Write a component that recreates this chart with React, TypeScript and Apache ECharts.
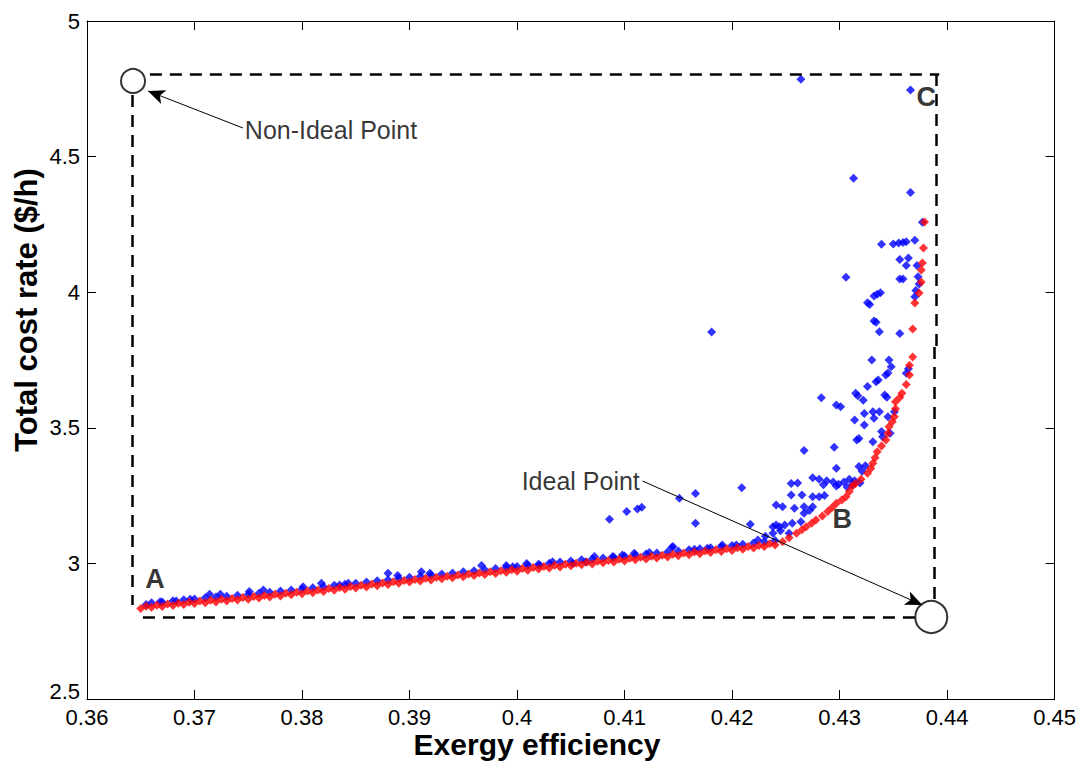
import React, { useEffect, useRef } from "react";
import * as echarts from "echarts";

// Pareto front (red) : [exergy efficiency, total cost rate]
const paretoFront: number[][] = [
  [0.3650, 2.834], [0.3655, 2.842], [0.3660, 2.838], [0.3665, 2.846], [0.3670, 2.841],
  [0.3675, 2.850], [0.3680, 2.845], [0.3685, 2.853], [0.3690, 2.848], [0.3695, 2.857],
  [0.3700, 2.852], [0.3705, 2.861], [0.3710, 2.855], [0.3715, 2.864], [0.3720, 2.858],
  [0.3725, 2.868], [0.3730, 2.861], [0.3735, 2.871], [0.3740, 2.865], [0.3745, 2.874],
  [0.3750, 2.868], [0.3755, 2.878], [0.3760, 2.872], [0.3765, 2.882], [0.3770, 2.876],
  [0.3775, 2.886], [0.3780, 2.880], [0.3785, 2.890], [0.3790, 2.884], [0.3795, 2.894],
  [0.3800, 2.888], [0.3805, 2.898], [0.3810, 2.892], [0.3815, 2.902], [0.3820, 2.896],
  [0.3825, 2.907], [0.3830, 2.901], [0.3835, 2.911], [0.3840, 2.905], [0.3845, 2.915],
  [0.3850, 2.909], [0.3855, 2.919], [0.3860, 2.913], [0.3865, 2.924], [0.3870, 2.918],
  [0.3875, 2.928], [0.3880, 2.922], [0.3885, 2.932], [0.3890, 2.927], [0.3895, 2.937],
  [0.3900, 2.931], [0.3905, 2.941], [0.3910, 2.935], [0.3915, 2.945], [0.3920, 2.939],
  [0.3925, 2.949], [0.3930, 2.943], [0.3935, 2.953], [0.3940, 2.947], [0.3945, 2.957],
  [0.3950, 2.951], [0.3955, 2.961], [0.3960, 2.955], [0.3965, 2.965], [0.3970, 2.959],
  [0.3975, 2.969], [0.3980, 2.963], [0.3985, 2.973], [0.3990, 2.967], [0.3995, 2.977],
  [0.4000, 2.971], [0.4005, 2.981], [0.4010, 2.975], [0.4015, 2.985], [0.4020, 2.979],
  [0.4025, 2.989], [0.4030, 2.983], [0.4035, 2.993], [0.4040, 2.987], [0.4045, 2.997],
  [0.4050, 2.991], [0.4055, 3.001], [0.4060, 2.995], [0.4065, 3.004], [0.4070, 2.998],
  [0.4075, 3.008], [0.4080, 3.002], [0.4085, 3.011], [0.4090, 3.005], [0.4095, 3.015],
  [0.4100, 3.009], [0.4105, 3.019], [0.4110, 3.013], [0.4115, 3.023], [0.4120, 3.016],
  [0.4125, 3.026], [0.4130, 3.020], [0.4135, 3.030], [0.4140, 3.024], [0.4145, 3.034],
  [0.4150, 3.028], [0.4155, 3.038], [0.4160, 3.032], [0.4165, 3.042], [0.4170, 3.036],
  [0.4175, 3.046], [0.4180, 3.040], [0.4185, 3.050], [0.4190, 3.044], [0.4195, 3.054],
  [0.4200, 3.048], [0.4205, 3.058], [0.4210, 3.052], [0.4215, 3.062], [0.4220, 3.057],
  [0.4225, 3.066], [0.4230, 3.062], [0.4235, 3.072], [0.4240, 3.068],
  [0.4247, 3.080], [0.4253, 3.095], [0.4260, 3.111], [0.4265, 3.124], [0.4269, 3.135],
  [0.4274, 3.148], [0.4278, 3.160], [0.4284, 3.175], [0.4289, 3.191], [0.4293, 3.206],
  [0.4297, 3.222], [0.4302, 3.234], [0.4306, 3.246], [0.4309, 3.265], [0.4312, 3.285],
  [0.4315, 3.295], [0.4320, 3.310], [0.4326, 3.332], [0.4329, 3.350], [0.4331, 3.369],
  [0.4333, 3.390], [0.4335, 3.412], [0.4339, 3.433], [0.4343, 3.455], [0.4345, 3.480],
  [0.4346, 3.504], [0.4349, 3.522], [0.4351, 3.541], [0.4352, 3.570], [0.4352, 3.596],
  [0.4356, 3.612], [0.4358, 3.627], [0.4362, 3.660], [0.4365, 3.695], [0.4365, 3.731],
  [0.4368, 3.761], [0.4368, 3.864], [0.4370, 3.960], [0.4374, 3.997], [0.4376, 4.038],
  [0.4376, 4.082], [0.4377, 4.108], [0.4378, 4.163], [0.4379, 4.259],
];

// All evaluated solutions (blue)
const solutions: number[][] = [
  // upper scatter
  [0.4264, 4.785], [0.4366, 4.746], [0.4313, 4.420], [0.4366, 4.368], [0.4377, 4.258],
  [0.4339, 4.177], [0.4350, 4.178], [0.4355, 4.181], [0.4359, 4.183], [0.4362, 4.186],
  [0.4370, 4.192], [0.4356, 4.121], [0.4364, 4.126], [0.4362, 4.098], [0.4372, 4.098],
  [0.4306, 4.055], [0.4356, 4.049], [0.4359, 4.049], [0.4373, 4.057], [0.4374, 4.030],
  [0.4338, 3.998], [0.4332, 3.986], [0.4335, 3.992], [0.4371, 4.006], [0.4370, 3.983],
  [0.4326, 3.961], [0.4328, 3.955], [0.4332, 3.894], [0.4334, 3.889], [0.4337, 3.854],
  [0.4356, 3.848], [0.4330, 3.750], [0.4346, 3.750], [0.4348, 3.725], [0.4343, 3.695],
  [0.4345, 3.702], [0.4334, 3.670], [0.4336, 3.676], [0.4326, 3.652], [0.4362, 3.701],
  [0.4364, 3.718], [0.4283, 3.611], [0.4315, 3.627], [0.4317, 3.618], [0.4322, 3.602],
  [0.4342, 3.621], [0.4344, 3.613], [0.4297, 3.584], [0.4301, 3.578], [0.4323, 3.553],
  [0.4331, 3.559], [0.4337, 3.559], [0.4351, 3.559], [0.4314, 3.529], [0.4323, 3.510],
  [0.4332, 3.535], [0.4345, 3.541], [0.4339, 3.486], [0.4340, 3.467], [0.4318, 3.461],
  [0.4316, 3.455], [0.4331, 3.449], [0.4347, 3.480], [0.4267, 3.416], [0.4295, 3.428],
  [0.4297, 3.351], [0.4318, 3.357], [0.4321, 3.340], [0.4324, 3.360],
  [0.4275, 3.316], [0.4281, 3.310], [0.4288, 3.305], [0.4294, 3.300], [0.4299, 3.292],
  [0.4304, 3.300], [0.4309, 3.310], [0.4314, 3.305], [0.4319, 3.296], [0.4285, 3.290],
  [0.4297, 3.285], [0.4307, 3.282], [0.4312, 3.290], [0.4255, 3.295], [0.4261, 3.296],
  [0.4255, 3.252], [0.4265, 3.252], [0.4275, 3.246], [0.4281, 3.246], [0.4286, 3.250],
  [0.4241, 3.215], [0.4247, 3.209], [0.4258, 3.203], [0.4267, 3.209], [0.4275, 3.209],
  [0.4267, 3.185], [0.4272, 3.195], [0.4241, 3.142], [0.4249, 3.142], [0.4256, 3.148],
  [0.4264, 3.154], [0.4253, 3.111], [0.4238, 3.111], [0.4245, 3.120], [0.4238, 3.135],
  [0.4244, 3.135],
  // middle outliers
  [0.4181, 3.853], [0.4086, 3.163], [0.4102, 3.191], [0.4112, 3.201], [0.4116, 3.207],
  [0.4151, 3.240], [0.4166, 3.258], [0.4166, 3.148], [0.4209, 3.279], [0.4217, 3.144],
  [0.4144, 3.059], [0.4224, 3.086], [0.4231, 3.100],
  // lower band bumps
  [0.3655, 2.848], [0.3668, 2.859], [0.3683, 2.861], [0.3696, 2.868], [0.3714, 2.886],
  [0.3724, 2.886], [0.3751, 2.896], [0.3764, 2.902], [0.3801, 2.914], [0.3818, 2.927],
  [0.3835, 2.920], [0.3843, 2.927], [0.3880, 2.964], [0.3889, 2.955], [0.3911, 2.969],
  [0.3919, 2.964], [0.3967, 2.992], [0.3990, 2.992], [0.3996, 2.988], [0.4009, 3.000],
  [0.4021, 2.994], [0.4033, 3.006], [0.4052, 3.000], [0.4064, 3.006], [0.4072, 3.025],
  [0.4089, 3.025], [0.4098, 3.031], [0.4109, 3.037], [0.4123, 3.040], [0.4145, 3.062],
  [0.4165, 3.052], [0.4177, 3.056], [0.4191, 3.068], [0.4204, 3.068],
  // lower band fringe
  [0.366, 2.855], [0.367, 2.858], [0.368, 2.862], [0.369, 2.866], [0.370, 2.869],
  [0.371, 2.873], [0.372, 2.876], [0.373, 2.879], [0.374, 2.883], [0.375, 2.886],
  [0.376, 2.890], [0.377, 2.894], [0.378, 2.898], [0.379, 2.902], [0.380, 2.906],
  [0.381, 2.910], [0.382, 2.914], [0.383, 2.919], [0.384, 2.923], [0.385, 2.927],
  [0.386, 2.931], [0.387, 2.936], [0.388, 2.940], [0.389, 2.945], [0.390, 2.949],
  [0.391, 2.953], [0.392, 2.957], [0.393, 2.961], [0.394, 2.965], [0.395, 2.969],
  [0.396, 2.973], [0.397, 2.977], [0.398, 2.981], [0.399, 2.985], [0.400, 2.989],
  [0.401, 2.993], [0.402, 2.997], [0.403, 3.001], [0.404, 3.005], [0.405, 3.009],
  [0.406, 3.013], [0.407, 3.016], [0.408, 3.020], [0.409, 3.023], [0.410, 3.027],
  [0.411, 3.031], [0.412, 3.035], [0.413, 3.038], [0.414, 3.042], [0.415, 3.046],
  [0.416, 3.050], [0.417, 3.054], [0.418, 3.058], [0.419, 3.062], [0.420, 3.066],
  [0.421, 3.071], [0.422, 3.075], [0.423, 3.080], [0.424, 3.084],
];

// Annotation anchors (data coordinates)
const nonIdealPoint = [0.36428, 4.779];
const idealPoint = [0.43853, 2.8024];
const boxTopY = 4.8046;
const boxBottomY = 2.8024;
const boxLeftX = 0.36418;
const boxRightX = 0.439;

const FONT = "'Liberation Sans', Arial, Helvetica, sans-serif";

export default function App() {
  const ref = useRef<HTMLDivElement>(null);
  useEffect(() => {
    document.body.style.margin = "0";
    const chart = echarts.init(ref.current!, null, { renderer: "svg" });
    const fmt = (v: number) => String(parseFloat(v.toFixed(2)));
    const yFmt = (v: number) => (Math.abs(v - 2.5) < 1e-9 ? "{low|2.5}" : fmt(v));
    const line = { show: true, onZero: false, lineStyle: { color: "#000", width: 1 } };
    const tick = { show: true, inside: true, length: 9, lineStyle: { color: "#000", width: 1 } };
    const xBase = { type: "value", min: 0.36, max: 0.45, interval: 0.01, axisLine: line, axisTick: tick, splitLine: { show: false } };
    const yBase = { type: "value", min: 2.5, max: 5, interval: 0.5, axisLine: line, axisTick: tick, splitLine: { show: false } };
    const dash = { color: "#000", width: 2.5, type: [12, 8] };
    const seg = (a: number[], b: number[]) => [{ coord: a }, { coord: b }];
    const lbl = { color: "#000", textBorderWidth: 0, textBorderColor: "transparent", fontFamily: FONT };

    chart.setOption({
      animation: false,
      backgroundColor: "#ffffff",
      grid: { left: 87, right: 24, top: 21, bottom: 63, containLabel: false },
      xAxis: [
        { ...xBase, position: "bottom", axisLabel: { color: "#000", fontSize: 22, fontFamily: FONT, margin: 7, formatter: fmt } },
        { ...xBase, position: "top", axisLabel: { show: false } },
      ],
      yAxis: [
        {
          ...yBase,
          position: "left",
          axisLabel: {
            color: "#000", fontSize: 22, fontFamily: FONT, margin: 7, formatter: yFmt,
            rich: { low: { fontSize: 22, fontFamily: FONT, color: "#000", padding: [0, 0, 16, 0] } },
          },
        },
        { ...yBase, position: "right", axisLabel: { show: false } },
      ],
      series: [
        {
          name: "solutions",
          type: "scatter",
          symbol: "diamond",
          symbolSize: 9,
          itemStyle: { color: "#0000ff" },
          data: solutions,
          silent: true,
          z: 2,
        },
        {
          name: "pareto",
          type: "scatter",
          symbol: "diamond",
          symbolSize: 9,
          itemStyle: { color: "#ff0000" },
          data: paretoFront,
          silent: true,
          z: 3,
        },
        {
          name: "box",
          type: "scatter",
          data: [],
          silent: true,
          z: 4,
          markLine: {
            silent: true,
            symbol: ["none", "none"],
            label: { show: false },
            lineStyle: dash,
            emphasis: { disabled: true },
            data: [
              seg([0.36585, boxTopY], [0.43927, boxTopY]),
              seg([boxLeftX, 4.727], [boxLeftX, 2.847]),
              seg([0.3652, boxBottomY], [0.43714, boxBottomY]),
              seg([boxRightX, boxTopY], [boxRightX, 3.798]),
              seg([0.43881, 3.798], [0.43881, 2.861]),
            ],
          },
        },
        {
          name: "arrows",
          type: "scatter",
          data: [],
          silent: true,
          z: 5,
          markLine: {
            silent: true,
            symbol: ["none", "arrow"],
            symbolSize: [11, 17],
            label: { show: false },
            lineStyle: { color: "#000", width: 1, type: "solid" },
            itemStyle: { color: "#000" },
            emphasis: { disabled: true },
            data: [
              seg([0.3745, 4.6055], [0.36567, 4.742]),
              seg([0.41167, 3.3038], [0.4377, 2.8466]),
            ],
          },
        },
        {
          name: "circles",
          type: "scatter",
          symbol: "circle",
          silent: true,
          z: 6,
          itemStyle: { color: "rgba(0,0,0,0)", borderColor: "#000", borderWidth: 2 },
          data: [
            { value: nonIdealPoint, symbolSize: 24 },
            { value: idealPoint, symbolSize: 32 },
          ],
        },
        {
          name: "labels",
          type: "scatter",
          symbolSize: 0,
          silent: true,
          z: 7,
          itemStyle: { color: "#000" },
          label: { show: true, formatter: "{b}", ...lbl },
          data: [
            { name: "Non-Ideal Point", value: [0.37468, 4.598], label: { position: "right", distance: 0, fontSize: 25, ...lbl } },
            { name: "Ideal Point", value: [0.40043, 3.304], label: { position: "right", distance: 0, fontSize: 25, ...lbl } },
            { name: "A", value: [0.36632, 2.9425], label: { position: "inside", fontSize: 27, fontWeight: "bold", ...lbl } },
            { name: "B", value: [0.43026, 3.1637], label: { position: "inside", fontSize: 27, fontWeight: "bold", ...lbl } },
            { name: "C", value: [0.43807, 4.7198], label: { position: "inside", fontSize: 27, fontWeight: "bold", ...lbl } },
          ],
        },
      ],
      graphic: [
        {
          type: "text",
          x: 537,
          y: 744,
          style: { text: "Exergy efficiency", font: `bold 30px ${FONT}`, fill: "#000", textAlign: "center", textVerticalAlign: "middle" },
        },
        {
          type: "text",
          x: 26,
          y: 310,
          rotation: Math.PI / 2,
          style: { text: "Total cost rate ($/h)", font: `bold 31px ${FONT}`, fill: "#000", textAlign: "center", textVerticalAlign: "middle" },
        },
      ],
    });
    return () => chart.dispose();
  }, []);
  return <div ref={ref} style={{ width: 1079, height: 762 }} />;
}
